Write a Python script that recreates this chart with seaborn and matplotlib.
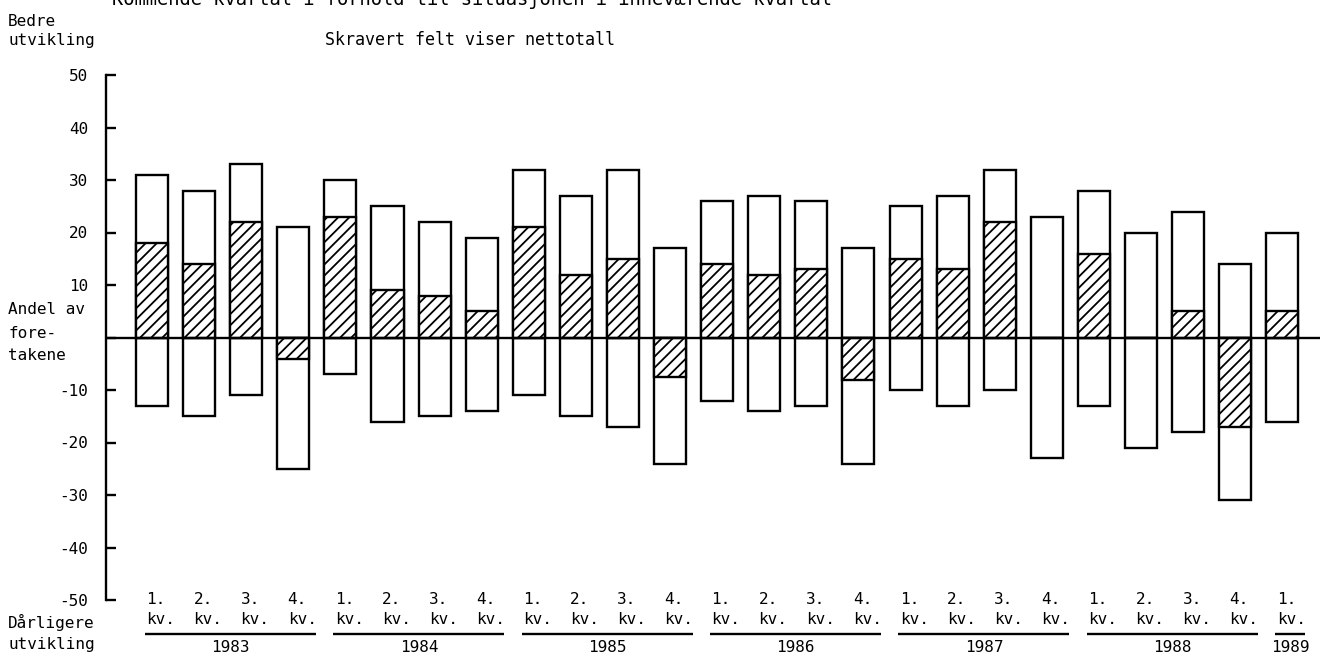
import numpy as np
import pandas as pd
import seaborn as sns
import matplotlib
matplotlib.use("Agg")
import matplotlib.pyplot as plt
from matplotlib.transforms import blended_transform_factory

# ---- data ----
year_of_bar = [1983]*4 + [1984]*4 + [1985]*4 + [1986]*4 + [1987]*4 + [1988]*4 + [1989]
quarter_of_bar = [1, 2, 3, 4]*6 + [1]
better = [31, 28, 33, 21, 30, 25, 22, 19, 32, 27, 32, 17, 26, 27, 26, 17, 25, 27, 32, 23, 28, 20, 24, 14, 20]
worse = [-13, -15, -11, -25, -7, -16, -15, -14, -11, -15, -17, -24, -12, -14, -13, -24, -10, -13, -10, -23, -13, -21, -18, -31, -16]
net = [18, 14, 22, -4, 23, 9, 8, 5, 21, 12, 15, -7.5, 14, 12, 13, -8, 15, 13, 22, 0, 16, 0, 5, -17, 5]
year_labels = ["1983", "1984", "1985", "1986", "1987", "1988", "1989"]
y_ticks = [50, 40, 30, 20, 10, 0, -10, -20, -30, -40, -50]
y_ticklabels = ["50", "40", "30", "20", "10", "", "-10", "-20", "-30", "-40", "-50"]

df = pd.DataFrame({
    "period": [f"{y}-{q}" for y, q in zip(year_of_bar, quarter_of_bar)],
    "better": better,
    "worse": worse,
    "net": net,
})

sns.set_theme(style="white")
plt.rcParams["font.family"] = ["DejaVu Sans Mono", "DejaVu Sans"]
plt.rcParams["hatch.linewidth"] = 1.3
plt.rcParams["hatch.color"] = "black"

W, H = 1336, 664
fig = plt.figure(figsize=(W/100, H/100), dpi=100)
fig.patch.set_facecolor("white")
ax = fig.add_axes([106/W, 64/H, (1320-106)/W, 525/H])

common = dict(data=df, x="period", color="white", edgecolor="black", linewidth=1.7,
              width=0.68, errorbar=None, saturation=1, ax=ax)
sns.barplot(y="better", **common)
sns.barplot(y="worse", **common)
sns.barplot(y="net", hatch="///", **common)

ax.axhline(0, color="black", lw=1.7, zorder=5)
ax.set_xlim(-0.977, 24.8)
ax.set_ylim(-50, 50)
ax.set_xlabel("")
ax.set_ylabel("")
for s in ["top", "right", "bottom"]:
    ax.spines[s].set_visible(False)
ax.spines["left"].set_color("black")
ax.spines["left"].set_linewidth(1.7)
ax.set_yticks(y_ticks)
ax.set_yticklabels(y_ticklabels)
ax.tick_params(axis="y", direction="in", length=7, width=1.7, labelsize=11.5,
               pad=13, colors="black", left=True)
ax.tick_params(axis="x", bottom=False, labelbottom=False)
ax.set_facecolor("white")

fs = 11.5
tr = blended_transform_factory(ax.transData, fig.transFigure)
def fy(px):
    return 1 - px/H

n = len(df)
for i in range(n):
    ax.text(i - 0.12, fy(600), f"{quarter_of_bar[i]}.", transform=tr, ha="left",
            va="center", fontsize=fs, color="black")
    ax.text(i - 0.12, fy(620), "kv.", transform=tr, ha="left", va="center",
            fontsize=fs, color="black")

for yl in year_labels:
    idx = [i for i in range(n) if str(year_of_bar[i]) == yl]
    x0, x1 = idx[0] - 0.15, idx[-1] + 0.48
    ax.plot([x0, x1], [fy(634), fy(634)], transform=tr, color="black", lw=1.7,
            clip_on=False, solid_capstyle="butt")
    ax.text((x0 + x1)/2, fy(648), yl, transform=tr, ha="center", va="center",
            fontsize=fs, color="black")

fig.text(112/W, fy(5), "Kommende kvartal i forhold til situasjonen i inneværende kvartal",
         ha="left", va="baseline", fontsize=13.5, color="black")
fig.text(8/W, fy(21), "Bedre", ha="left", va="center", fontsize=fs, color="black")
fig.text(8/W, fy(40), "utvikling", ha="left", va="center", fontsize=fs, color="black")
fig.text(325/W, fy(40), "Skravert felt viser nettotall", ha="left", va="center",
         fontsize=12, color="black")
fig.text(8/W, fy(310), "Andel av", ha="left", va="center", fontsize=fs, color="black")
fig.text(8/W, fy(333), "fore-", ha="left", va="center", fontsize=fs, color="black")
fig.text(8/W, fy(355), "takene", ha="left", va="center", fontsize=fs, color="black")
fig.text(8/W, fy(622), "Dårligere", ha="left", va="center", fontsize=fs, color="black")
fig.text(8/W, fy(644), "utvikling", ha="left", va="center", fontsize=fs, color="black")

fig.savefig("out.png", dpi=100, facecolor="white")
